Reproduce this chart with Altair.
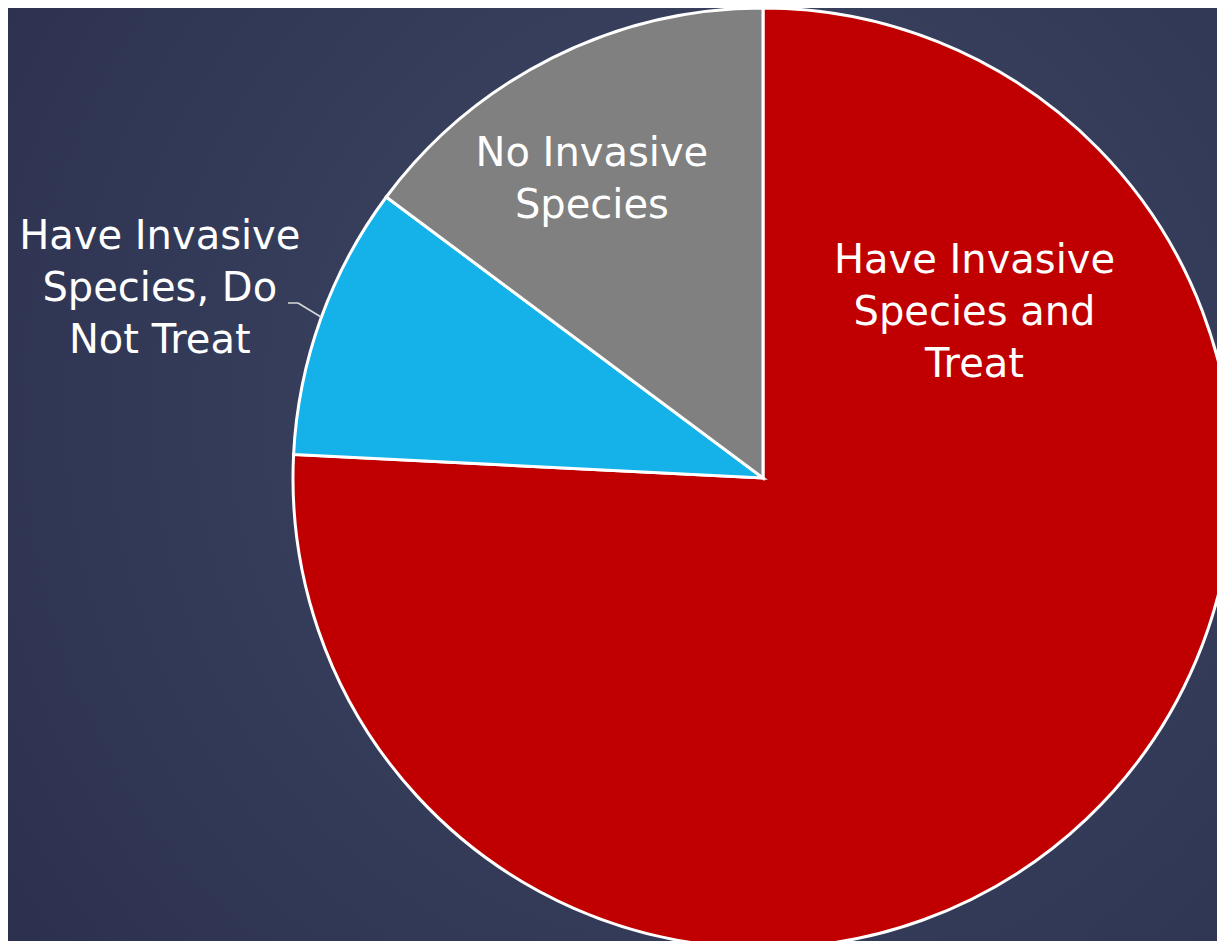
import altair as alt
import pandas as pd

categories = ["Have Invasive Species and Treat", "Have Invasive Species, Do Not Treat", "No Invasive Species"]
labels = ["Have Invasive\nSpecies and\nTreat", "Have Invasive\nSpecies, Do\nNot Treat", "No Invasive\nSpecies"]
values = [75.8, 9.4, 14.8]
order = [0, 1, 2]
colors = ["#C00000", "#14B2E9", "#808080"]

df = pd.DataFrame({"category": categories, "label": labels, "value": values, "order": order})

W, H = 1209, 933
CX, CY, R = 755, 470, 470
FONT = "DejaVu Sans"
LH = 52

base = alt.Chart(df)

bg = alt.Chart(pd.DataFrame({"a": [0]})).mark_rect(
    fill={
        "gradient": "radial",
        "x1": 0.6, "y1": 0.45, "r1": 0.0,
        "x2": 0.6, "y2": 0.45, "r2": 0.75,
        "stops": [
            {"offset": 0, "color": "#404a66"},
            {"offset": 1, "color": "#2b304e"},
        ],
    }
).encode(x=alt.value(0), x2=alt.value(W), y=alt.value(0), y2=alt.value(H))

arcs = base.mark_arc(stroke="white", strokeWidth=3, radius=R).encode(
    theta=alt.Theta("value:Q", stack=True),
    order=alt.Order("order:Q"),
    color=alt.Color("category:N", scale=alt.Scale(domain=categories, range=colors), legend=None),
    x=alt.value(CX),
    y=alt.value(CY),
)

def label_layer(cat, frac, radius, nlines):
    return base.transform_joinaggregate(total="sum(value)").transform_window(
        cum="sum(value)", sort=[alt.SortField("order")], frame=[None, 0]
    ).transform_calculate(
        start="(datum.cum - datum.value) / datum.total * 2 * PI",
        end="datum.cum / datum.total * 2 * PI",
    ).transform_calculate(
        lab=f"datum.start + {frac} * (datum.end - datum.start)"
    ).transform_filter(
        alt.datum.category == cat
    ).mark_text(
        font=FONT, fontSize=40, color="white", lineBreak="\n", lineHeight=LH,
        align="center", baseline="middle", radius=radius, dy=-(nlines - 1) * LH / 2,
    ).encode(
        theta=alt.Theta("lab:Q", scale=None),
        text="label:N",
        x=alt.value(CX),
        y=alt.value(CY),
    )

red_lab = label_layer(categories[0], 0.191, 268, 3)
blue_lab = label_layer(categories[1], 0.428, 632, 3)
gray_lab = label_layer(categories[2], 0.44, 344, 2)

leader1 = alt.Chart(pd.DataFrame({"a": [0]})).mark_rule(color="#d9d9d9", strokeWidth=1.5).encode(
    x=alt.value(280), x2=alt.value(290), y=alt.value(295), y2=alt.value(295)
)
leader2 = alt.Chart(pd.DataFrame({"a": [0]})).mark_rule(color="#d9d9d9", strokeWidth=1.5).encode(
    x=alt.value(290), x2=alt.value(313), y=alt.value(295), y2=alt.value(309)
)

chart = alt.layer(bg, arcs, leader1, leader2, red_lab, blue_lab, gray_lab).properties(
    width=W, height=H, padding=0, background="#2f3552",
    autosize=alt.AutoSizeParams(type="none"),
).configure_view(stroke=None)

chart.save("out.html", embed_options={"renderer": "svg", "actions": False})
